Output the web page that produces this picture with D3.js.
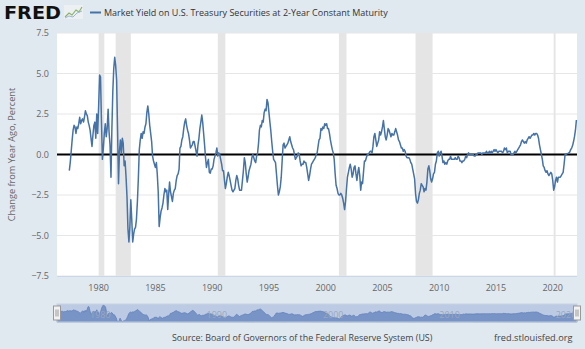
<!DOCTYPE html>
<html>
<head>
<meta charset="utf-8">
<script src="https://cdn.jsdelivr.net/npm/d3@7"></script>
<style>
  html, body { margin: 0; padding: 0; background: #e1e9f0; }
  svg { display: block; font-family: "Open Sans", "DejaVu Sans", sans-serif; }
</style>
</head>
<body>
<svg id="chart" width="585" height="349"></svg>
<script>
// Change from year ago of the 2-year constant maturity yield, monthly, Jun 1977 .. Feb 2022
var firstMonth = [1977, 5]; // June 1977 (month index 0-based)

var values1970s = [
	-1.0, -0.5, 0.2, 0.9, 1.5, 1.8, 1.7,                        // 1977 Jun-Dec
	1.3, 1.7, 1.6, 1.9, 2.3, 1.9, 2.1, 2.2, 2.0, 2.3, 2.7, 2.5, // 1978
	2.4, 2.0, 1.8, 1.5, 1.0, 0.5, 1.2, 1.8, 2.0, 1.0, 2.5, 1.3  // 1979
];
var values1980s = [
	3.0, 4.9, 4.8, 2.0, -0.3, 0.4, 1.3, 1.9, 1.1, 1.6, 2.8, 1.4,
	0.6, -1.4, 1.5, 3.9, 5.3, 6.0, 5.5, 4.6, 1.5, -1.8, 0.2, 0.9,
	0.1, 1.0, 0.7, -0.7, -0.4, -1.4, -2.6, -4.6, -5.4, -4.5, -2.8, -4.0,
	-5.4, -4.9, -4.6, -4.5, -4.0, -2.9, -1.5, 0.3, 0.9, 1.3, 1.0, 1.4,
	1.3, 1.7, 1.9, 2.6, 3.0, 2.5, 1.8, 1.3, 0.8, -0.1, -0.4, -0.6,
	-0.8, -0.5, -1.2, -2.3, -4.45, -3.9, -3.5, -3.3, -3.0, -2.5, -2.1, -2.3,
	-2.2, -3.4, -2.5, -1.7, -2.3, -2.6, -2.9, -2.4, -2.2, -2.1, -1.6, -1.3,
	-1.2, -0.9, 0.4, 0.5, 0.9, 1.1, 1.6, 2.0, 2.2, 1.8, 1.5, 1.3,
	0.9, 0.4, 0.5, 0.6, 0.8, 0.8, 0.5, 0.2, -0.1, 0.6, 1.0, 1.6,
	2.0, 2.44, 2.0, 1.3, 0.6, -0.2, -0.8, -0.5, -0.3, -1.1, -1.15, -0.9
];
var values1990s = [
	-0.9, -0.7, -0.3, -0.1, 0.1, 0.4, -0.1, 0.1, 0.0, -0.3, -0.6, -1.0,
	-1.0, -1.6, -2.1, -1.8, -1.4, -1.1, -1.3, -1.6, -1.9, -2.2, -2.3, -2.2,
	-2.1, -1.6, -1.3, -1.5, -1.9, -2.2, -2.2, -2.2, -1.6, -1.0, -0.2, -0.5,
	-1.2, -1.7, -1.4, -1.0, -0.8, -0.6, -0.2, 0.0, -0.2, -0.4, -0.5, -0.1,
	0.1, 0.7, 1.5, 1.8, 1.7, 2.1, 2.0, 2.6, 2.8, 2.7, 3.4, 3.2,
	2.6, 2.0, 1.5, 0.8, 0.2, -0.3, -0.4, -0.5, -1.2, -1.9, -2.5, -2.3,
	-2.0, -1.4, -0.4, 0.6, 0.7, 0.4, 0.5, 0.6, 0.7, 0.9, 1.1, 0.8,
	0.6, 0.4, 0.3, 0.0, -0.3, -0.2, -0.1, 0.1, 0.0, -0.4, -0.7, -0.6,
	-0.6, -0.4, -0.5, -0.5, -0.8, -1.2, -1.6, -1.3, -0.9, -0.6, -0.5, -0.4,
	-0.3, -0.2, 0.0, 0.1, 0.5, 0.9, 1.0, 1.6, 1.5, 1.7, 1.6, 1.9
];
var values2000s = [
	1.8, 1.9, 1.6, 1.6, 1.3, 0.9, 0.6, 0.3, 0.1, -0.3, -1.2, -1.9,
	-2.1, -2.4, -2.5, -2.5, -2.4, -2.5, -2.7, -3.0, -3.4, -2.9, -2.1, -1.4,
	-1.1, -0.8, -0.6, -0.9, -1.4, -1.2, -0.8, -0.7, -1.2, -1.6, -1.1, -0.8,
	-1.3, -2.2, -1.7, -1.8, -1.1, -0.4, -0.4, -0.2, 0.0, 0.0, 0.1, 0.2,
	0.2, 0.1, 0.5, 1.1, 1.3, 0.9, 0.5, 0.7, 0.9, 1.4, 1.2, 1.4,
	1.7, 2.1, 1.6, 1.1, 0.9, 1.2, 1.6, 1.5, 1.3, 1.1, 1.3, 1.2,
	1.2, 1.4, 1.6, 1.4, 1.2, 0.9, 0.8, 0.6, 0.4, 0.4, 0.2, 0.3,
	0.2, -0.1, -0.2, -0.2, -0.2, -0.3, -0.5, -0.6, -0.9, -1.2, -1.5, -2.4,
	-2.9, -3.0, -2.8, -2.4, -2.2, -1.8, -1.9, -2.0, -2.3, -2.1, -2.2, -1.7,
	-0.9, -0.7, -1.0, -1.5, -1.7, -1.5, -1.2, -1.1, -0.6, -0.4, 0.1, 0.2
];
var values2010s = [
	-0.1, 0.1, 0.2, -0.1, -0.5, -0.4, -0.6, -0.5, -0.6, -0.4, -0.3, -0.3,
	-0.1, -0.3, -0.3, -0.3, -0.3, -0.2, -0.3, -0.3, -0.1, -0.2, -0.4, -0.4,
	-0.5, -0.4, -0.4, -0.3, -0.1, -0.2, 0.0, 0.1, 0.0, 0.0, 0.0, 0.0,
	0.0, -0.1, -0.1, 0.0, 0.0, 0.1, 0.1, 0.1, 0.1, 0.0, 0.1, 0.1,
	0.1, 0.1, 0.2, 0.1, 0.1, 0.2, 0.1, 0.2, 0.1, 0.2, 0.3, 0.2,
	0.3, 0.2, 0.1, 0.2, 0.2, 0.2, 0.2, 0.1, 0.2, 0.4, 0.3, 0.4,
	0.1, 0.2, 0.2, 0.2, 0.0, 0.0, 0.0, 0.1, 0.2, 0.1, 0.2, 0.3,
	0.4, 0.5, 0.6, 0.8, 0.9, 0.8, 0.7, 0.8, 0.7, 0.9, 1.0, 1.1,
	1.0, 1.1, 1.2, 1.2, 1.3, 1.2, 1.3, 1.3, 1.2, 1.0, 0.6, 0.3,
	0.0, -0.3, -0.7, -0.8, -1.0, -1.1, -1.0, -1.2, -1.3, -1.2, -1.1, -1.2
];
var values2020s = [
	-1.6, -2.2, -2.0, -1.6, -1.4, -1.7, -1.4, -1.4, -1.4, -1.3, -1.2, -1.1,
	-0.6, 0.0, 0.0, 0.05, 0.07, 0.1, 0.15, 0.3, 0.4, 0.55, 0.8, 1.1,
	1.5, 2.13
];

var recessions = [
	["1980-01-01", "1980-07-01"],
	["1981-07-01", "1982-11-01"],
	["1990-07-01", "1991-03-01"],
	["2001-03-01", "2001-11-01"],
	["2007-12-01", "2009-06-01"],
	["2020-02-01", "2020-04-01"]
];
var yTicks = [-7.5, -5.0, -2.5, 0.0, 2.5, 5.0, 7.5];
var xTickYears = [1980, 1985, 1990, 1995, 2000, 2005, 2010, 2015, 2020];
var navTickYears = [1980, 1990, 2000, 2010, 2020];

var title = "Market Yield on U.S. Treasury Securities at 2-Year Constant Maturity";
var yTitle = "Change from Year Ago, Percent";
var source = "Source: Board of Governors of the Federal Reserve System (US)";
var site = "fred.stlouisfed.org";

var values = values1970s.concat(values1980s, values1990s, values2000s, values2010s, values2020s);
var data = values.map(function(v, i) {
	return { date: new Date(firstMonth[0], firstMonth[1] + i, 1), value: v };
});

var svg = d3.select("#chart");
var plot = { left: 57, right: 577, top: 33, bottom: 276 };

var x = d3.scaleTime()
	.domain([new Date(1976, 4, 1), new Date(2022, 1, 20)])
	.range([plot.left, plot.right]);
var y = d3.scaleLinear()
	.domain([-7.5, 7.5])
	.range([plot.bottom, plot.top]);

// plot background
svg.append("rect")
	.attr("x", plot.left).attr("y", plot.top)
	.attr("width", plot.right - plot.left).attr("height", plot.bottom - plot.top)
	.attr("fill", "#ffffff");

// recession shading
var parse = d3.timeParse("%Y-%m-%d");
svg.append("g").selectAll("rect")
	.data(recessions)
	.join("rect")
	.attr("x", function(d) { return x(parse(d[0])); })
	.attr("y", plot.top)
	.attr("width", function(d) { return x(parse(d[1])) - x(parse(d[0])); })
	.attr("height", plot.bottom - plot.top)
	.attr("fill", "#e5e5e5");

// horizontal grid
svg.append("g").selectAll("line")
	.data(yTicks.filter(function(t) { return t !== 0; }))
	.join("line")
	.attr("x1", plot.left).attr("x2", plot.right)
	.attr("y1", function(d) { return y(d); })
	.attr("y2", function(d) { return y(d); })
	.attr("stroke", "#e6e6e6")
	.attr("stroke-width", 1);

// bottom axis line
svg.append("line")
	.attr("x1", plot.left).attr("x2", plot.right)
	.attr("y1", plot.bottom + 0.5).attr("y2", plot.bottom + 0.5)
	.attr("stroke", "#ccd6eb");

// y labels
svg.append("g").selectAll("text")
	.data(yTicks)
	.join("text")
	.attr("x", 49)
	.attr("y", function(d) { return y(d); })
	.attr("dy", "0.35em")
	.attr("text-anchor", "end")
	.attr("font-size", 9)
	.attr("fill", "#666666")
	.text(function(d) { return d3.format(".1f")(d); });

// x labels
svg.append("g").selectAll("text")
	.data(xTickYears)
	.join("text")
	.attr("x", function(d) { return x(new Date(d, 0, 1)); })
	.attr("y", 291)
	.attr("text-anchor", "middle")
	.attr("font-size", 9)
	.attr("fill", "#666666")
	.text(function(d) { return d; });

// y axis title
svg.append("text")
	.attr("transform", "translate(15," + ((plot.top + plot.bottom) / 2) + ") rotate(-90)")
	.attr("text-anchor", "middle")
	.attr("font-size", 9.2)
	.attr("fill", "#666666")
	.text(yTitle);

// zero line
svg.append("line")
	.attr("x1", plot.left).attr("x2", plot.right)
	.attr("y1", y(0)).attr("y2", y(0))
	.attr("stroke", "#000000")
	.attr("stroke-width", 2);

// series
var line = d3.line()
	.x(function(d) { return x(d.date); })
	.y(function(d) { return y(d.value); });
svg.append("path")
	.datum(data)
	.attr("d", line)
	.attr("fill", "none")
	.attr("stroke", "#4572a7")
	.attr("stroke-width", 1.5)
	.attr("stroke-linejoin", "round");

// navigator
var nav = { top: 304, bottom: 322 };
var nx = d3.scaleTime()
	.domain(d3.extent(data, function(d) { return d.date; }))
	.range([plot.left, plot.right]);
var ny = d3.scaleLinear()
	.domain(d3.extent(data, function(d) { return d.value; }))
	.range([nav.bottom, nav.top + 1]);
svg.append("rect")
	.attr("x", plot.left).attr("y", nav.top)
	.attr("width", plot.right - plot.left).attr("height", nav.bottom - nav.top)
	.attr("fill", "#bccbe3");
var area = d3.area()
	.x(function(d) { return nx(d.date); })
	.y0(nav.bottom)
	.y1(function(d) { return ny(d.value); });
svg.append("path")
	.datum(data)
	.attr("d", area)
	.attr("fill", "#7893c6")
	.attr("stroke", "#6281ba")
	.attr("stroke-width", 0.8);
svg.append("g").selectAll("text")
	.data(navTickYears)
	.join("text")
	.attr("x", function(d) { return nx(new Date(d, 0, 1)) + 3; })
	.attr("y", nav.bottom - 4)
	.attr("font-size", 9)
	.attr("fill", "#9aa7bd")
	.text(function(d) { return d; });
svg.append("rect")
	.attr("x", plot.left).attr("y", nav.top)
	.attr("width", plot.right - plot.left).attr("height", nav.bottom - nav.top)
	.attr("fill", "none")
	.attr("stroke", "#c8d3e3");
[plot.left, plot.right].forEach(function(hx) {
	var g = svg.append("g").attr("transform", "translate(" + hx + "," + ((nav.top + nav.bottom) / 2) + ")");
	g.append("rect")
		.attr("x", -3.5).attr("y", -7).attr("width", 7).attr("height", 14)
		.attr("fill", "#f2f2f2").attr("stroke", "#999999");
	g.append("line").attr("x1", -1).attr("x2", -1).attr("y1", -3.5).attr("y2", 3.5).attr("stroke", "#999999");
	g.append("line").attr("x1", 1).attr("x2", 1).attr("y1", -3.5).attr("y2", 3.5).attr("stroke", "#999999");
});

// header: FRED logo + legend
svg.append("text")
	.attr("x", 4).attr("y", 19)
	.attr("font-family", "DejaVu Sans")
	.attr("font-weight", "bold")
	.attr("font-size", 18)
	.attr("textLength", 57)
	.attr("lengthAdjust", "spacingAndGlyphs")
	.attr("fill", "#111111")
	.text("FRED");
var icon = svg.append("g").attr("transform", "translate(64,5)");
icon.append("rect").attr("width", 19).attr("height", 14).attr("fill", "#edf0f2");
icon.append("polyline")
	.attr("points", "1,12 5,8 8,10 12,5 15,7 18,2")
	.attr("fill", "none").attr("stroke", "#8db36b").attr("stroke-width", 1.2);
icon.append("polyline")
	.attr("points", "1,13 5,11 9,12 13,8 18,6")
	.attr("fill", "none").attr("stroke", "#9db6d6").attr("stroke-width", 1);

svg.append("line")
	.attr("x1", 90).attr("x2", 101).attr("y1", 12.5).attr("y2", 12.5)
	.attr("stroke", "#4572a7").attr("stroke-width", 2);
svg.append("text")
	.attr("x", 104).attr("y", 16)
	.attr("font-size", 9)
	.attr("fill", "#333333")
	.text(title);

// footer
svg.append("text")
	.attr("x", 172).attr("y", 341)
	.attr("font-size", 8.9)
	.attr("fill", "#444444")
	.text(source);
svg.append("text")
	.attr("x", 494).attr("y", 341)
	.attr("font-size", 9.2)
	.attr("fill", "#444444")
	.text(site);
</script>
</body>
</html>
